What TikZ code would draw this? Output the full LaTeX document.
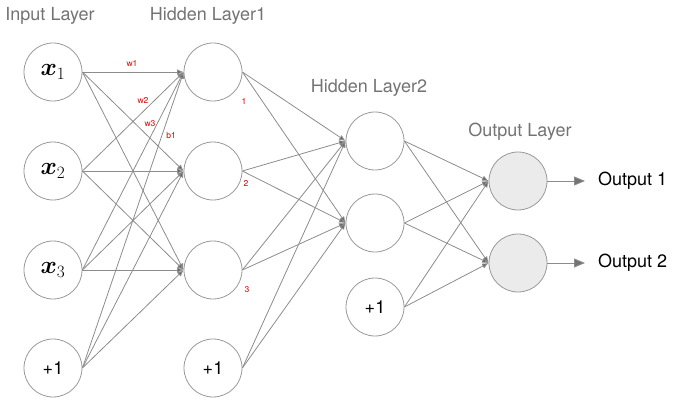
\documentclass[tikz,border=0pt]{standalone}
\usepackage{bm}
\usepackage{fontspec}
\setsansfont{TeX Gyre Heros}
\usetikzlibrary{
  arrows.meta,
  positioning,  % Function "of" (e.g. [right=of x])
}
\def\myrad{58pt}
\newcommand{\xin}[1]{$\bm{x}_{#1}$}
\tikzset{
  font=\sffamily,
  >={Latex[length=6.5pt,width=5.5pt]},
  my neuron/.style={
    draw=black!40,
    circle,
    minimum size=\myrad,
    inner sep=0pt,
    line width=0.8pt,
    font=\sffamily\fontsize{18}{20}\selectfont
  },
  my input/.style={
    my neuron,
    font=\fontsize{26}{28}\selectfont
  },
  my output/.style={
    my neuron,
    fill=black!8
  },
  my title/.style={
    text=black!55,
    font=\sffamily\fontsize{18}{20}\selectfont
  },
  my result/.style={
    anchor=west,
    inner sep=0pt,
    font=\sffamily\fontsize{18}{20}\selectfont
  },
  my edge/.style={
    draw=black!45,
    line width=0.8pt,
    -{Latex[length=6.5pt,width=5.5pt,fill=black!60]}
  },
  my out edge/.style={
    draw=black!45,
    line width=0.8pt,
    -{Triangle[length=11pt,width=9pt,fill=black!55]}
  },
  my weight/.style={
    text=red!85!black,
    font=\sffamily\fontsize{8.5}{9}\selectfont
  }
}

\begin{document}
\begin{tikzpicture}[x=1pt,y=-1pt]
\useasboundingbox (0,0) rectangle (678,401);
% titles
\node[my title] (ti) at (50,16)   {Input Layer};
\node[my title] (th) at (208,16)  {Hidden Layer1};
\node[my title] (tg) at (369,88)  {Hidden Layer2};
\node[my title] (to) at (520,132) {Output Layer};
% input layer
\node[my input]  (i1) at (53,72)  {\xin1};
\node[my input]  (i2) at (53,171) {\xin2};
\node[my input]  (i3) at (53,270) {\xin3};
\node[my neuron] (ib) at (53,368) {+1};
% hidden layer 1
\node[my neuron] (h1) at (213,72)  {};
\node[my neuron] (h2) at (213,171) {};
\node[my neuron] (h3) at (213,270) {};
\node[my neuron] (hb) at (213,368) {+1};
% hidden layer 2
\node[my neuron] (g1) at (375,141) {};
\node[my neuron] (g2) at (375,223) {};
\node[my neuron] (gb) at (375,307) {+1};
% output layer
\node[my output] (o1) at (518,181) {};
\node[my output] (o2) at (518,263) {};
\node[my result] (t1) at (598,181) {Output 1};
\node[my result] (t2) at (598,263) {Output 2};
% connections
\foreach \s in {i1,i2,i3,ib}
  \foreach \t in {h1,h2,h3}
    \draw[my edge] (\s.east) -- (\t.west);
\foreach \s in {h1,h2,h3,hb}
  \foreach \t in {g1,g2}
    \draw[my edge] (\s.east) -- (\t.west);
\foreach \s in {g1,g2,gb}
  \foreach \t in {o1,o2}
    \draw[my edge] (\s.east) -- (\t.west);
\draw[my out edge] (o1.east) -- ([xshift=-13pt]t1.west);
\draw[my out edge] (o2.east) -- ([xshift=-13pt]t2.west);
% weights
\node[my weight] (w1) at (132,63)  {w1};
\node[my weight] (w2) at (143,100) {w2};
\node[my weight] (w3) at (150,124) {w3};
\node[my weight] (b1) at (171,135) {b1};
\node[my weight] (n1) at (244,101) {1};
\node[my weight] (n2) at (246,183) {2};
\node[my weight] (n3) at (247,290) {3};
\end{tikzpicture}
\end{document}
